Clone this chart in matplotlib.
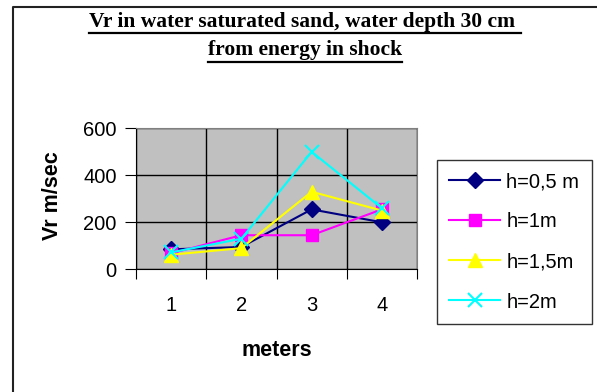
import numpy as np
import matplotlib
matplotlib.use("Agg")
import matplotlib.pyplot as plt
from matplotlib.lines import Line2D

# data
meters = [1, 2, 3, 4]
h05 = [85, 95, 255, 200]
h1 = [68, 145, 145, 255]
h15 = [62, 90, 330, 250]
h2 = [72, 130, 500, 260]
labels = ['h=0,5 m', 'h=1m', 'h=1,5m', 'h=2m']
title1 = 'Vr in water saturated sand, water depth 30 cm '
title2 = 'from energy in shock'

W, H = 597, 392
fig = plt.figure(figsize=(W / 100, H / 100), dpi=100)
ax = fig.add_axes([136 / W, 1 - 269.3 / H, (417 - 136) / W, (269.3 - 128.3) / H])
ax.set_facecolor('#C0C0C0')

ax.plot(meters, h05, color='#000080', marker='D', ms=8, lw=1.5, label=labels[0])
ax.plot(meters, h1, color='#FF00FF', marker='s', ms=8, lw=1.5, label=labels[1])
ax.plot(meters, h15, color='#FFFF00', marker='^', ms=10, lw=1.5, label=labels[2])
ax.plot(meters, h2, color='#00FFFF', marker='x', ms=10, mew=1.5, lw=1.5, label=labels[3])

ax.set_xlim(0.5, 4.5)
ax.set_ylim(0, 600)
ax.set_yticks([0, 200, 400, 600])
ax.set_xticks([0.5, 1.5, 2.5, 3.5, 4.5])
ax.set_xticklabels([])
ax.set_xticks(meters, minor=True)
ax.set_xticklabels([str(m) for m in meters], minor=True)
ax.tick_params(axis='x', which='major', length=7, direction='out', color='black')
ax.tick_params(axis='x', which='minor', length=0, pad=19, labelsize=14.5)
ax.tick_params(axis='y', length=8, direction='out', pad=6, labelsize=14.5)
for lab in ax.get_xticklabels(minor=True) + ax.get_yticklabels():
    lab.set_family('Liberation Sans')

ax.grid(True, which='major', color='black', lw=1)
ax.set_axisbelow(True)
ax.spines['left'].set_color('black')
ax.spines['bottom'].set_color('black')
ax.spines['top'].set_color('#808080')
ax.spines['right'].set_color('#808080')

fig.text(53 / W, 1 - 196 / H, 'Vr m/sec', rotation=90, ha='center', va='center',
         fontsize=15.5, fontweight='bold', family='Liberation Sans')
fig.text(276.5 / W, 1 - 350 / H, 'meters', ha='center', va='center',
         fontsize=15.5, fontweight='bold', family='Liberation Sans')

# underlined title
t1 = fig.text(305 / W, 1 - 26.7 / H, title1, ha='center', va='baseline',
              fontsize=15.5, fontweight='bold', family='Liberation Serif')
t2 = fig.text(305 / W, 1 - 55 / H, title2, ha='center', va='baseline',
              fontsize=15.5, fontweight='bold', family='Liberation Serif')
fig.canvas.draw()
r = fig.canvas.get_renderer()
for t, uy in [(t1, 33), (t2, 62)]:
    bb = t.get_window_extent(r)
    fig.add_artist(Line2D([bb.x0 / W, bb.x1 / W], [1 - uy / H] * 2,
                          transform=fig.transFigure, color='black', lw=1.6))

# outer chart frame (only top and left show)
fig.add_artist(Line2D([13 / W, 13 / W, 1], [0, 1 - 6.5 / H, 1 - 6.5 / H],
                      transform=fig.transFigure, color='#222222', lw=1.5))

leg = fig.legend(loc='upper left', bbox_to_anchor=(437 / W, 1 - 160 / H),
                 frameon=True, fancybox=False, handlelength=2.55,
                 labelspacing=1.05, borderpad=0.6, handletextpad=0.3,
                 borderaxespad=0, prop={'family': 'Liberation Sans', 'size': 14.5})
leg.get_frame().set_edgecolor('black')
leg.get_frame().set_linewidth(1)

fig.savefig('out.png', dpi=100)
